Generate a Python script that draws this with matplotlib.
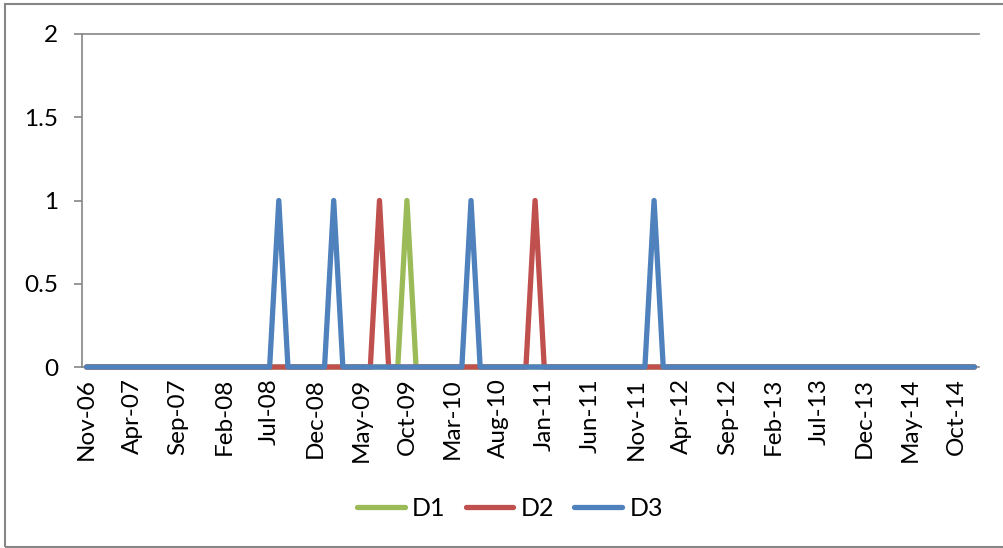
import matplotlib
matplotlib.use("Agg")
import matplotlib.pyplot as plt
import pandas as pd
from matplotlib.patches import Rectangle

plt.rcParams['font.family'] = ['Lato', 'DejaVu Sans']

# monthly categories Nov-06 .. Dec-14
months = pd.date_range("2006-11-01", "2014-12-01", freq="MS")
labels = [m.strftime("%b-%y") for m in months]

# months where each series equals 1 (zero elsewhere)
d1_ones = ["Oct-09"]
d2_ones = ["Jul-09", "Dec-10"]
d3_ones = ["Aug-08", "Feb-09", "May-10", "Jan-12"]

def series(ones):
    return [1 if lab in ones else 0 for lab in labels]

D1 = series(d1_ones)
D2 = series(d2_ones)
D3 = series(d3_ones)

GRAY = "#868686"

fig = plt.figure(figsize=(10.04, 5.48), dpi=100)
ax = fig.add_axes([82 / 1004, 1 - 367 / 548, (979 - 82) / 1004, (367 - 34) / 548])

x = list(range(len(labels)))
lw = 3.8
kw = dict(lw=lw, solid_capstyle="round", solid_joinstyle="round", clip_on=False, zorder=5)
ax.plot(x, D1, color="#9BBB59", label="D1", **kw)
ax.plot(x, D2, color="#C0504D", label="D2", **kw)
ax.plot(x, D3, color="#4F81BD", label="D3", **kw)

ax.set_xlim(-0.5, len(labels) - 0.5)
ax.set_ylim(0, 2)
ax.set_yticks([0, 0.5, 1, 1.5, 2])
ax.set_yticklabels(["0", "0.5", "1", "1.5", "2"])
ax.set_xticks(x[::5])
ax.set_xticklabels(labels[::5], rotation=90)

ax.tick_params(axis="y", length=6, width=1.2, color=GRAY, pad=11, labelsize=17.5)
ax.tick_params(axis="x", length=0, pad=8, labelsize=17.5)
for s in ["left", "top", "bottom"]:
    ax.spines[s].set_color(GRAY)
    ax.spines[s].set_linewidth(1.2)
ax.spines["right"].set_visible(False)

fig.legend(loc="center", bbox_to_anchor=(510 / 1004, 40 / 548), ncol=3, frameon=False,
           fontsize=18, handlelength=1.9, handletextpad=0.3, columnspacing=0.8)

# chart area border
fig.patches.append(Rectangle((5 / 1004, 1 / 548), 1.1, 1 - 5 / 548, transform=fig.transFigure,
                             fill=False, edgecolor=GRAY, lw=1.5))

fig.savefig("out.png", dpi=100)
